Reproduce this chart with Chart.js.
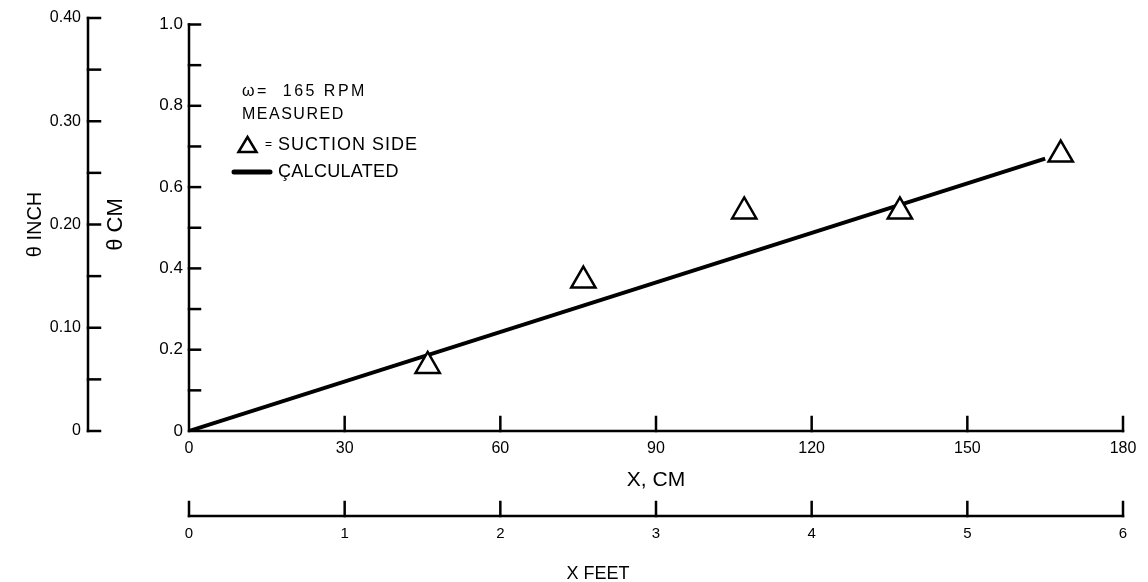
<!DOCTYPE html>
<html>
<head>
<meta charset="utf-8">
<script src="https://cdn.jsdelivr.net/npm/chart.js@4.4.1/dist/chart.umd.min.js"></script>
<style>
  html, body { margin: 0; padding: 0; background: #fff; }
  #wrap { width: 1148px; height: 582px; }
</style>
</head>
<body>
<div id="wrap"><canvas id="chart" width="1148" height="582"></canvas></div>
<script>
// measured boundary layer thickness, suction side
const measuredX = [46, 76, 107, 137, 168];
const measuredTheta = [0.16, 0.37, 0.54, 0.54, 0.68];

// calculated curve (straight line)
const calcX = [0, 165];
const calcTheta = [0, 0.67];

// axis ticks
const xCmTicks = [0, 30, 60, 90, 120, 150, 180];
const xFeetTicks = [0, 1, 2, 3, 4, 5, 6];
const thetaCmLabels = [0, 0.2, 0.4, 0.6, 0.8, 1.0];
const thetaCmMinor = [0.1, 0.2, 0.3, 0.4, 0.5, 0.6, 0.7, 0.8, 0.9, 1.0];
const thetaInchLabels = [0, 0.1, 0.2, 0.3, 0.4];
const thetaInchMinor = [0.05, 0.1, 0.15, 0.2, 0.25, 0.3, 0.35, 0.4];

const INCH_MAX = 0.4;
const CM_MAX = INCH_MAX * 2.54;

const FONT = "'Liberation Sans', Arial, sans-serif";

function setTicks(values) {
  return scale => { scale.ticks = values.map(v => ({ value: v })); };
}

// hand-drawn style axes: lines with inward ticks, plus the legend block
const axesPlugin = {
  id: 'axes',
  afterDraw(chart) {
    const { ctx } = chart;
    const { x, xft, y, yin } = chart.scales;
    ctx.save();
    ctx.strokeStyle = '#000';
    ctx.lineWidth = 2.5;
    ctx.lineCap = 'square';

    const line = (x1, y1, x2, y2) => {
      ctx.beginPath(); ctx.moveTo(x1, y1); ctx.lineTo(x2, y2); ctx.stroke();
    };

    // theta CM axis
    const ax = y.right;
    line(ax, y.getPixelForValue(0), ax, y.getPixelForValue(1.0));
    thetaCmMinor.forEach(v => {
      const py = y.getPixelForValue(v);
      line(ax, py, ax + 11, py);
    });

    // theta INCH axis
    const ix = yin.right;
    line(ix, yin.getPixelForValue(0), ix, yin.getPixelForValue(INCH_MAX));
    [0].concat(thetaInchMinor).forEach(v => {
      const py = yin.getPixelForValue(v);
      line(ix, py, ix + 12, py);
    });

    // X, CM axis
    const by = x.top;
    line(x.getPixelForValue(0), by, x.getPixelForValue(180), by);
    xCmTicks.slice(1).forEach(v => {
      const px = x.getPixelForValue(v);
      line(px, by, px, by - 14);
    });

    // X FEET axis
    const fy = xft.top;
    line(xft.getPixelForValue(0), fy, xft.getPixelForValue(6), fy);
    xFeetTicks.forEach(v => {
      const px = xft.getPixelForValue(v);
      line(px, fy, px, fy - 14);
    });

    // legend
    const lx = chart.chartArea.left;
    const ty = chart.chartArea.top;
    ctx.fillStyle = '#000';
    ctx.textBaseline = 'middle';
    ctx.textAlign = 'left';
    ctx.font = `16px ${FONT}`;
    ctx.letterSpacing = '2.5px';
    ctx.fillText('\u03c9=  165 RPM', lx + 53, ty + 74);
    ctx.letterSpacing = '1.5px';
    ctx.fillText('MEASURED', lx + 53, ty + 97);
    ctx.font = `18px ${FONT}`;
    ctx.letterSpacing = '1px';
    ctx.fillText('SUCTION SIDE', lx + 89, ty + 127);
    ctx.letterSpacing = '0.3px';
    ctx.fillText('\u00c7ALCULATED', lx + 89, ty + 154);
    ctx.letterSpacing = '0px';
    ctx.font = `12px ${FONT}`;
    ctx.fillText('=', lx + 76, ty + 127);

    ctx.lineWidth = 2.5;
    ctx.lineJoin = 'miter';
    ctx.beginPath();
    ctx.moveTo(lx + 58.5, ty + 119);
    ctx.lineTo(lx + 67.5, ty + 134);
    ctx.lineTo(lx + 49.5, ty + 134);
    ctx.closePath();
    ctx.stroke();

    ctx.lineWidth = 5;
    ctx.lineCap = 'round';
    line(lx + 45, ty + 154, lx + 81, ty + 154);

    // X FEET caption
    ctx.font = `18px ${FONT}`;
    ctx.textAlign = 'center';
    ctx.fillText('X FEET', 598, 574);

    ctx.restore();
  }
};

new Chart(document.getElementById('chart'), {
  type: 'scatter',
  data: {
    datasets: [
      {
        label: 'SUCTION SIDE',
        data: measuredX.map((v, i) => ({ x: v, y: measuredTheta[i] })),
        pointStyle: 'triangle',
        pointRadius: 14,
        pointBorderWidth: 2.5,
        pointBorderColor: '#000',
        pointBackgroundColor: '#fff',
        showLine: false,
        yAxisID: 'y'
      },
      {
        label: 'CALCULATED',
        data: calcX.map((v, i) => ({ x: v, y: calcTheta[i] })),
        showLine: true,
        borderColor: '#000',
        borderWidth: 4,
        pointRadius: 0,
        yAxisID: 'y'
      }
    ]
  },
  options: {
    responsive: false,
    animation: false,
    devicePixelRatio: 1,
    layout: { padding: { top: 18, right: 25, left: 0, bottom: 0 } },
    plugins: { legend: { display: false }, tooltip: { enabled: false } },
    scales: {
      x: {
        type: 'linear',
        position: 'bottom',
        min: 0,
        max: 180,
        afterBuildTicks: setTicks(xCmTicks),
        afterFit: s => { s.height = 85; },
        grid: { display: false, drawTicks: false },
        border: { display: false },
        ticks: { color: '#000', font: { family: FONT, size: 16 }, padding: 8, maxRotation: 0 },
        title: {
          display: true, text: 'X, CM', color: '#000',
          font: { family: FONT, size: 21 }, padding: { top: 0, bottom: 23 }
        }
      },
      xft: {
        type: 'linear',
        position: 'bottom',
        min: 0,
        max: 6,
        afterBuildTicks: setTicks(xFeetTicks),
        afterFit: s => { s.height = 66; },
        grid: { display: false, drawTicks: false },
        border: { display: false },
        ticks: { color: '#000', font: { family: FONT, size: 15 }, padding: 9, maxRotation: 0 }
      },
      y: {
        type: 'linear',
        position: 'left',
        min: 0,
        max: CM_MAX,
        afterBuildTicks: setTicks(thetaCmLabels),
        afterFit: s => { s.width = 101; },
        grid: { display: false, drawTicks: false },
        border: { display: false },
        ticks: {
          color: '#000', font: { family: FONT, size: 17 }, padding: 6,
          callback: v => v === 0 ? '0' : v.toFixed(1)
        },
        title: {
          display: true, text: '\u03b8 CM', color: '#000',
          font: { family: FONT, size: 22 }, padding: { top: 15, bottom: 0 }
        }
      },
      yin: {
        type: 'linear',
        position: 'left',
        min: 0,
        max: INCH_MAX,
        afterBuildTicks: setTicks(thetaInchLabels),
        afterFit: s => { s.width = 88; },
        grid: { display: false, drawTicks: false },
        border: { display: false },
        ticks: {
          color: '#000', font: { family: FONT, size: 16 }, padding: 7,
          callback: v => v === 0 ? '0' : v.toFixed(2)
        },
        title: {
          display: true, text: '\u03b8 INCH', color: '#000',
          font: { family: FONT, size: 20 }, padding: { top: 23, bottom: 0 }
        }
      }
    }
  },
  plugins: [axesPlugin]
});
</script>
</body>
</html>
